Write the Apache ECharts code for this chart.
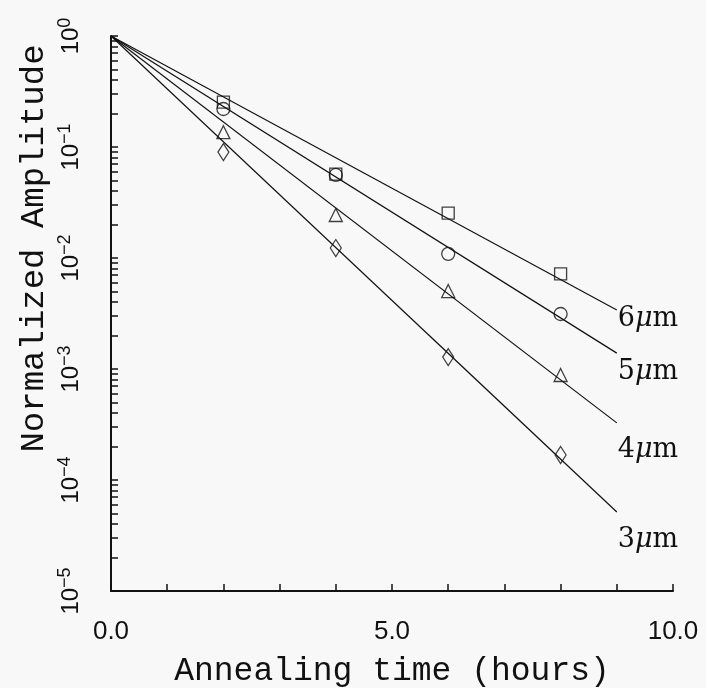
<!DOCTYPE html>
<html>
<head>
<meta charset="utf-8">
<script src="https://cdn.jsdelivr.net/npm/echarts@6/dist/echarts.min.js"></script>
<style>html,body{margin:0;padding:0;background:#f8f8f8;}#c{width:706px;height:688px;}</style>
</head>
<body>
<div id="c"></div>
<script>
const hours = [2, 4, 6, 8];
const amp6 = [0.254, 0.057, 0.0254, 0.00718];
const amp5 = [0.22, 0.056, 0.0109, 0.00313];
const amp4 = [0.136, 0.0244, 0.00504, 0.000883];
const amp3 = [0.090, 0.0123, 0.00128, 0.000168];
// Fitted exponential lines (start and end points)
const fitX = [0, 9];
const fit6 = [1, 0.0034];
const fit5 = [1, 0.00139];
const fit4 = [1, 0.000327];
const fit3 = [1, 0.0000515];
// Tick labels
const xLabelValues = [0, 5, 10];
const yDecades = [-5, -4, -3, -2, -1, 0];
const yMinorMult = [1, 2, 3, 4, 5, 6, 7, 8, 9];
const yTickValues = [];
yDecades.forEach(d => { if (d < 0) yMinorMult.forEach(k => yTickValues.push(k * Math.pow(10, d))); else yTickValues.push(1); });

const sizes = ['6', '5', '4', '3'];
const symbols = ['rect', 'circle', 'triangle', 'diamond'];
const ampSets = [amp6, amp5, amp4, amp3];
const fitSets = [fit6, fit5, fit4, fit3];
const labelOffsets = [9, 19, 27, 28];

const pts = (xs, ys) => xs.map((x, i) => [x, ys[i]]);

const series = [];
ampSets.forEach((a, i) => {
  series.push({
    type: 'scatter',
    name: sizes[i] + 'μm',
    data: pts(hours, a),
    symbol: symbols[i],
    symbolSize: symbols[i] === 'diamond' ? [11, 17] : (symbols[i] === 'rect' ? 12 : 13),
    itemStyle: { color: 'transparent', borderColor: '#111', borderWidth: 1.3 },
    z: 3
  });
  series.push({
    type: 'line',
    data: pts(fitX, fitSets[i]),
    showSymbol: false,
    symbol: 'none',
    lineStyle: { color: '#111', width: 1.2 },
    silent: true,
    endLabel: {
      show: true,
      formatter: '{n|' + sizes[i] + '}{mu|μ}{n|m}',
      distance: 1,
      offset: [0, labelOffsets[i]],
      rich: {
        n: { fontFamily: 'DejaVu Serif', fontSize: 27, color: '#111' },
        mu: { fontFamily: 'DejaVu Serif', fontStyle: 'italic', fontSize: 27, color: '#111' }
      }
    },
    z: 2
  });
});

const chart = echarts.init(document.getElementById('c'), null, { renderer: 'canvas' });
chart.setOption({
  backgroundColor: '#f8f8f8',
  animation: false,
  grid: { left: 111, right: 33, top: 36, bottom: 97, containLabel: false, outerBoundsMode: 'none' },
  xAxis: {
    type: 'value', min: 0, max: 10, interval: 1,
    splitLine: { show: false },
    axisLine: { show: true, lineStyle: { color: '#111', width: 2 } },
    axisTick: { show: true, inside: true, length: 7, lineStyle: { color: '#111', width: 1.5 } },
    axisLabel: {
      customValues: xLabelValues,
      formatter: v => v.toFixed(1),
      margin: 28,
      fontFamily: 'Liberation Sans', fontSize: 26, color: '#111'
    },
    name: 'Annealing time (hours)',
    nameLocation: 'middle',
    nameGap: 64,
    nameMoveOverlap: false,
    nameTextStyle: { fontFamily: 'Liberation Mono', fontSize: 33, color: '#111' }
  },
  yAxis: {
    type: 'log', logBase: 10, min: 1e-5, max: 1,
    splitLine: { show: false },
    axisLine: { show: true, lineStyle: { color: '#111', width: 2 } },
    axisTick: { show: true, inside: true, length: 7, customValues: yTickValues, lineStyle: { color: '#111', width: 1.5 } },
    minorTick: { show: false },
    axisLabel: {
      rotate: 90,
      margin: 25,
      fontFamily: 'Liberation Sans', fontSize: 24, color: '#111',
      formatter: v => {
        const e = Math.round(Math.log10(v));
        return '{b|10}{s|' + (e < 0 ? '\u2212' + (-e) : String(e)) + '}';
      },
      rich: {
        b: { fontFamily: 'Liberation Sans', fontSize: 24, color: '#111' },
        s: { fontFamily: 'Liberation Sans', fontSize: 18, color: '#111', padding: [0, 0, 12, 0] }
      }
    },
    name: 'Normalized Amplitude',
    nameLocation: 'middle',
    nameGap: 60,
    nameMoveOverlap: false,
    nameTextStyle: { fontFamily: 'Liberation Mono', fontSize: 34, color: '#111', padding: [0, 0, 0, 130] }
  },
  series: series
});
</script>
</body>
</html>
